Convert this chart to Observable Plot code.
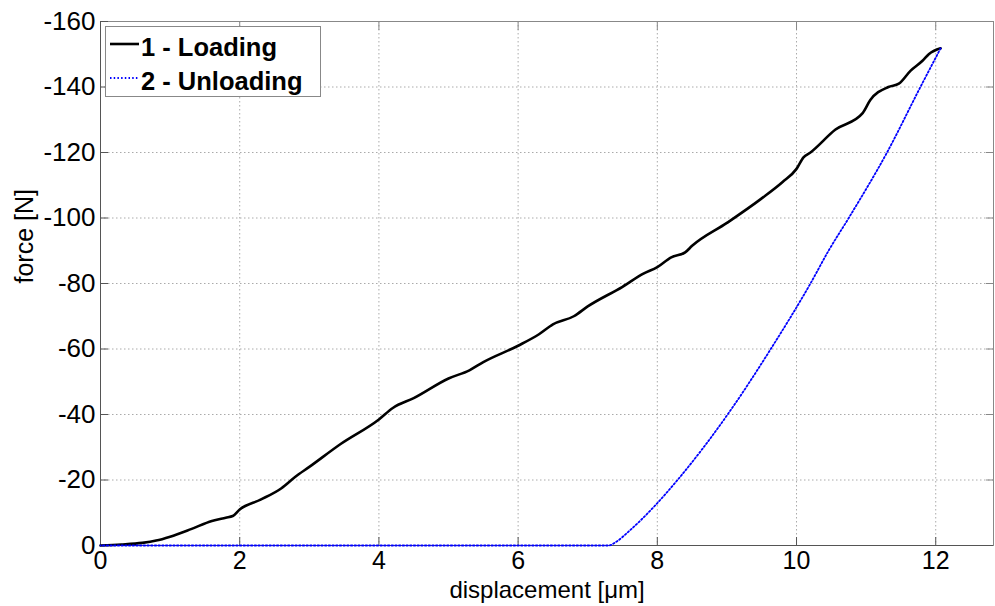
<!DOCTYPE html>
<html>
<head>
<meta charset="utf-8">
<script src="https://cdn.jsdelivr.net/npm/d3@7"></script>
<script src="https://cdn.jsdelivr.net/npm/@observablehq/plot@0.6"></script>
<style>
  body { margin: 0; background: #fff; }
  #wrap { position: relative; width: 995px; height: 606px; }
  #legend { position: absolute; left: 105px; top: 26px; width: 216px; height: 71px;
            border: 1px solid #888; background: #fff; box-sizing: border-box; }
</style>
</head>
<body>
<div id="wrap">
  <div id="chart"></div>
  <div id="legend"></div>
</div>
<script>
// Series 1 - Loading (displacement µm, force N)
const loadX = [0, 0.3, 0.6, 0.8, 1.0, 1.3, 1.6, 1.8, 1.9, 2.0, 2.3, 2.6, 2.8, 3.0, 3.45, 4.0, 4.2, 4.5, 5.0, 5.3, 5.5, 6.0, 6.3, 6.5, 6.8, 7.0, 7.5, 7.8, 8.0, 8.2, 8.4, 8.5, 9.0, 9.5, 9.8, 10.0, 10.1, 10.2, 10.56, 10.95, 11.06, 11.32, 11.47, 11.64, 11.81, 11.9, 12.07];
const loadF = [0, -0.3, -0.8, -1.5, -2.7, -5, -7.5, -8.5, -9.0, -11, -14, -17.5, -21, -24, -31, -38.5, -42, -45, -51, -53.5, -56, -61, -64.5, -67.5, -70, -73, -79, -83, -85, -88, -89.5, -91.5, -98.5, -106, -111, -115, -118.5, -120, -127, -132, -136, -140, -141, -145, -148, -150, -151.8];
// Series 2 - Unloading
const unloadX = [12.07, 11.78, 11.30, 10.75, 10.46, 10.2, 9.63, 9.01, 8.29, 7.95, 7.6, 7.4, 7.3, 0];
const unloadF = [-151.8, -140, -120, -100, -90, -80, -60, -40, -20, -11.8, -4.5, -1, 0, 0];
const xTicks = [0, 2, 4, 6, 8, 10, 12];
const yTicks = [0, -20, -40, -60, -80, -100, -120, -140, -160];
const seriesNames = ["1 - Loading", "2 - Unloading"];
const seriesColors = ["#000000", "#0000ff"];

const loading = loadX.map((x, i) => ({x, f: loadF[i]}));
const unloading = unloadX.map((x, i) => ({x, f: unloadF[i]}));

const font = "'Liberation Sans', Arial, Helvetica, sans-serif";
const axisColor = "#555";
const fmt = d => String(d);

const chart = Plot.plot({
  width: 995,
  height: 606,
  marginLeft: 100,
  marginRight: 2,
  marginTop: 21,
  marginBottom: 61,
  style: { fontFamily: font, fontSize: "25px", color: "#000", background: "#fff" },
  x: { domain: [0, 12.83], ticks: xTicks },
  y: { domain: [0, -160], ticks: yTicks },
  marks: [
    Plot.gridX(xTicks, { stroke: "#aaa", strokeOpacity: 1, strokeDasharray: "1.5,2.5", strokeWidth: 1 }),
    Plot.gridY(yTicks, { stroke: "#aaa", strokeOpacity: 1, strokeDasharray: "1.5,2.5", strokeWidth: 1 }),
    Plot.frame({ stroke: "#888", strokeWidth: 1 }),
    // inward ticks
    Plot.axisX(xTicks, { anchor: "bottom", tickSize: 8, dy: -8, tickFormat: () => "", stroke: axisColor, label: null }),
    Plot.axisX(xTicks, { anchor: "top", tickSize: 8, dy: 8, tickFormat: () => "", stroke: "#888", label: null }),
    Plot.axisY(yTicks, { anchor: "left", tickSize: 8, dx: 8, tickFormat: () => "", stroke: axisColor, label: null }),
    Plot.axisY(yTicks, { anchor: "right", tickSize: 8, dx: -8, tickFormat: () => "", stroke: "#888", label: null }),
    // tick labels
    Plot.axisX(xTicks, { anchor: "bottom", tickSize: 0, tickPadding: 6, label: null, fill: "#000", fontSize: 25, tickFormat: fmt }),
    Plot.axisY(yTicks, { anchor: "left", tickSize: 0, tickPadding: 5, label: null, fill: "#000", fontSize: 26, tickFormat: fmt }),
    Plot.ruleX([0], { stroke: axisColor }),
    Plot.ruleY([0], { stroke: axisColor }),
    // axis titles
    Plot.text(["force [N]"], { frameAnchor: "left", rotate: -90, dx: -76, fontSize: 25, fill: "#000" }),
    Plot.text(["displacement [\u03bcm]"], { frameAnchor: "bottom", lineAnchor: "middle", dy: 45, fontSize: 24, fill: "#000" }),
    // data
    Plot.line(loading, { x: "x", y: "f", stroke: seriesColors[0], strokeWidth: 2.6, strokeLinejoin: "round", curve: "monotone-x" }),
    Plot.line(unloading, { x: "x", y: "f", stroke: seriesColors[1], strokeWidth: 1.8, strokeDasharray: "1.5,2.2", curve: "monotone-x" })
  ]
});
document.getElementById("chart").appendChild(chart);

// legend
const lg = d3.select("#legend").append("svg").attr("width", 214).attr("height", 69)
  .style("font-family", font);
seriesNames.forEach((name, i) => {
  const cy = 17 + i * 34;
  lg.append("line").attr("x1", 4).attr("x2", 33).attr("y1", cy).attr("y2", cy)
    .attr("stroke", seriesColors[i])
    .attr("stroke-width", i === 0 ? 2.6 : 1.8)
    .attr("stroke-dasharray", i === 0 ? null : "1.5,2.2");
  lg.append("text").attr("x", 35).attr("y", cy + 12).attr("font-size", 25.5)
    .attr("font-weight", "bold").attr("fill", "#000").text(name);
});
</script>
</body>
</html>
